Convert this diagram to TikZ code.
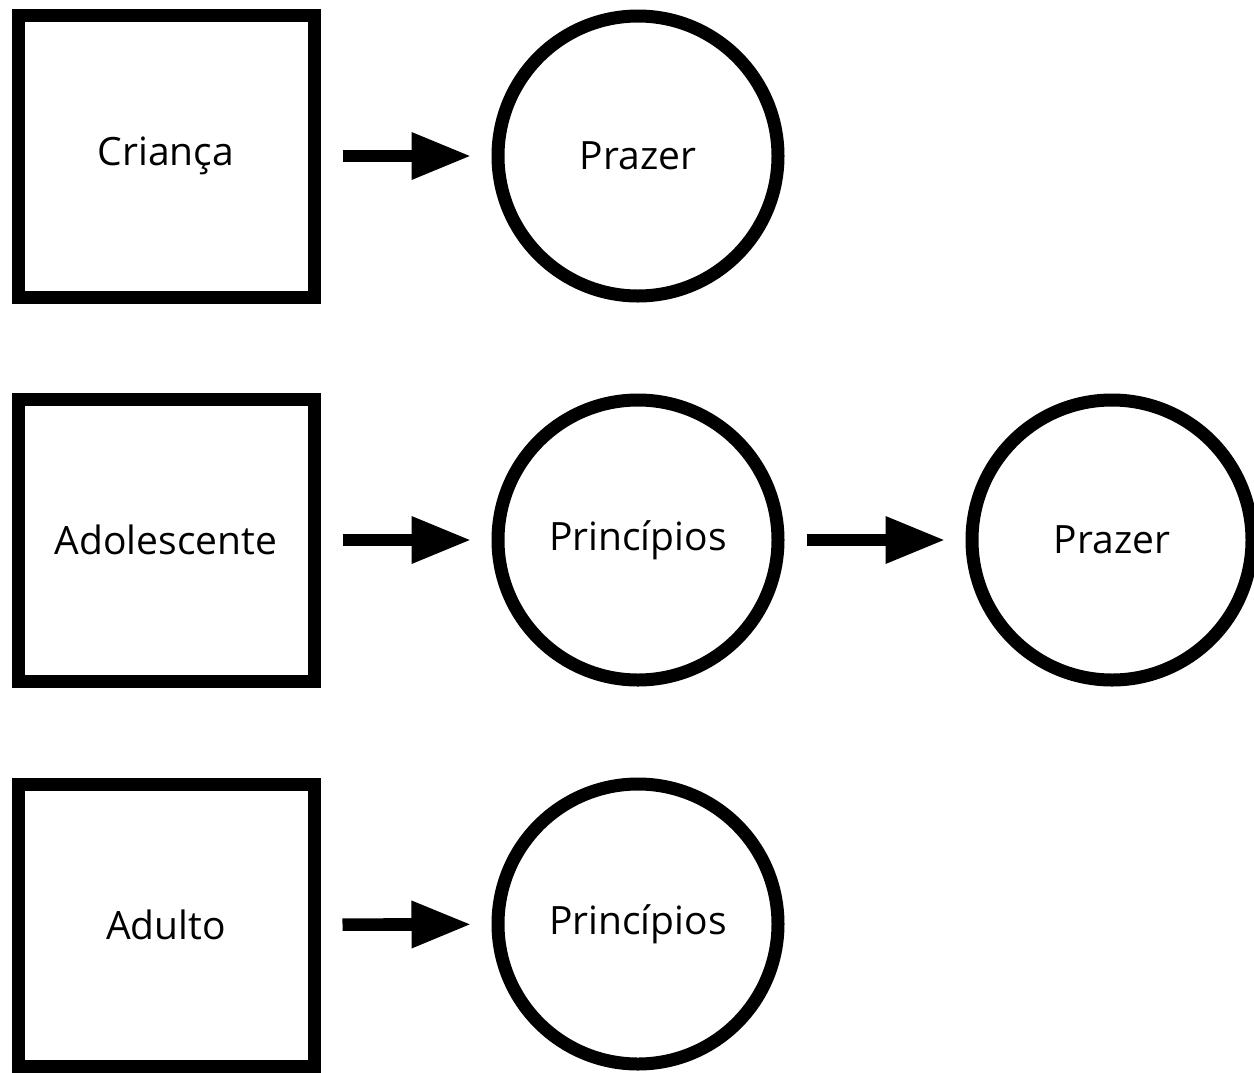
\documentclass[tikz,border=0pt]{standalone}
\usepackage{fontspec}
\setmainfont{Open Sans}
\usepackage{tikz}
\usetikzlibrary{arrows.meta}

\begin{document}
\begin{tikzpicture}
		[x=0.5pt,y=-0.5pt,
		every node/.style={font=\fontsize{19.5}{23}\selectfont},
		fase/.style={draw,line width=6.5pt,minimum width=148pt,minimum height=141pt},
		valor/.style={draw,circle,line width=6.5pt,minimum size=140pt},
		seta/.style={line width=6.3pt,-{Triangle[length=30pt,width=22pt]},shorten <=11pt,shorten >=10pt}]
		\useasboundingbox (0,0) rectangle (1254,1072);
		\node[fase] (crianca) at (166,156) {Criança};
		\node[fase] (adolescente) at (166,540) {Adolescente};
		\node[fase] (adulto) at (166,925) {Adulto};
		\node[valor] (p1) at (638,156) {Prazer};
		\node[valor] (p2) at (638,540) {Princípios};
		\node[valor] (p3) at (1112,540) {Prazer};
		\node[valor] (p4) at (638,924) {Princípios};
		
		\foreach \from/\to in {crianca/p1,adolescente/p2,p2/p3,adulto/p4}
		\draw[seta] (\from) -- (\to);
		\end{tikzpicture}
\end{document}
